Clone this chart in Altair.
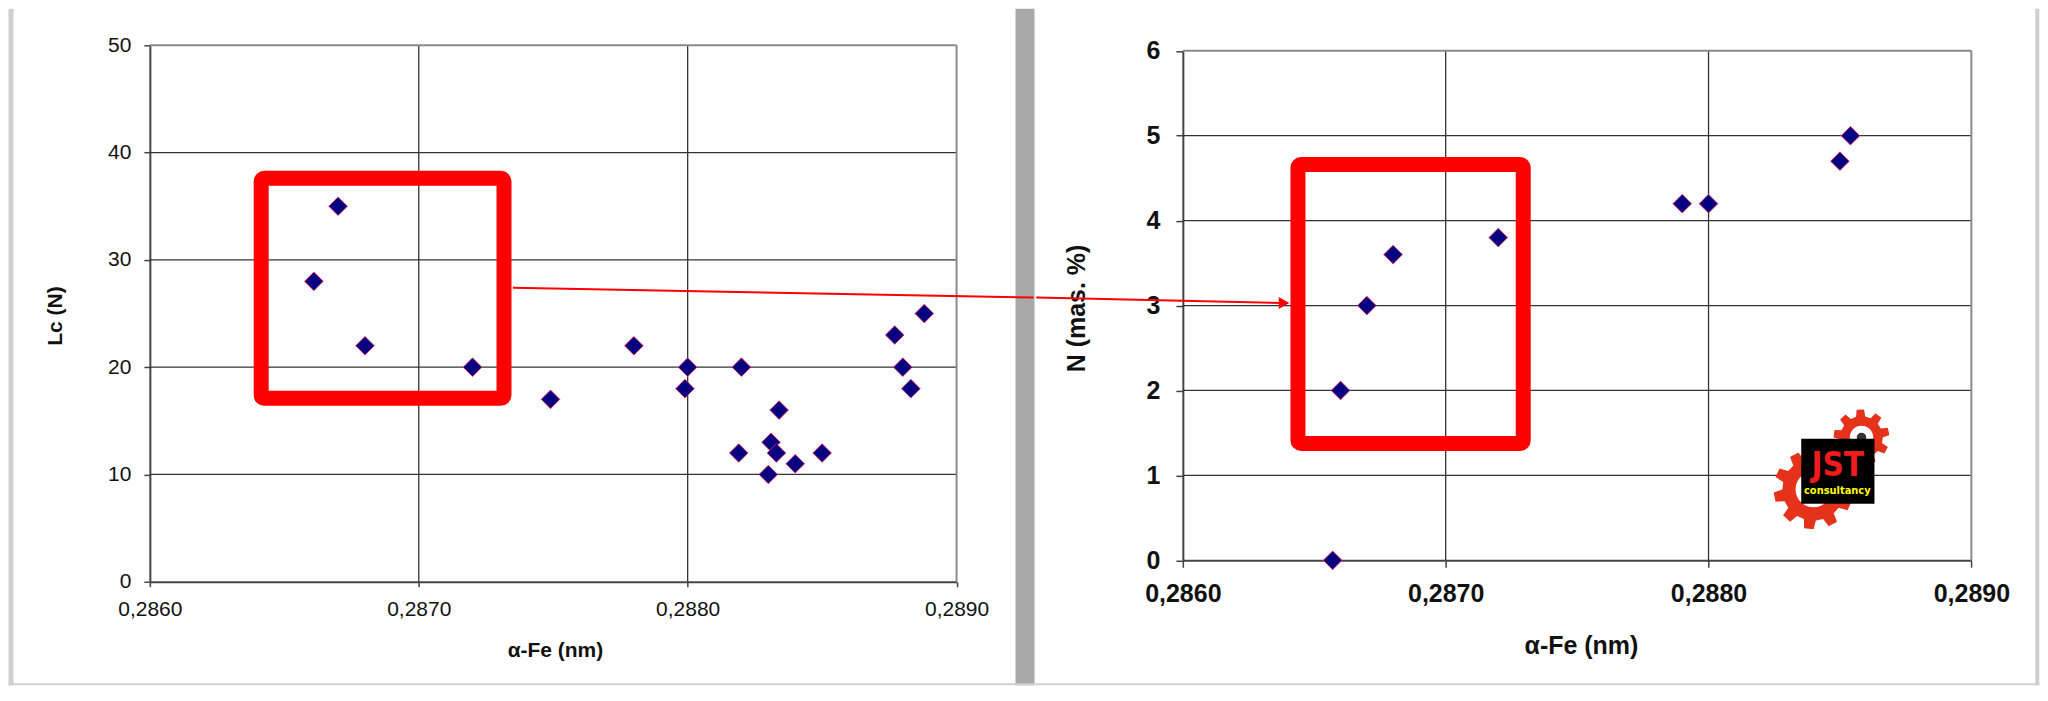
import math
import altair as alt
import pandas as pd

# ---------------- data ----------------
lc_x = [0.28661, 0.28670, 0.28680, 0.28720, 0.28749, 0.28780, 0.28799, 0.28800, 0.28820, 0.28819,
        0.28831, 0.28833, 0.28830, 0.28834, 0.28840, 0.28850, 0.28877, 0.28880, 0.28883, 0.28888]
lc_y = [28, 35, 22, 20, 17, 22, 18, 20, 20, 12, 13, 12, 10, 16, 11, 12, 23, 20, 18, 25]

n_x = [0.28657, 0.28660, 0.28670, 0.28680, 0.28720, 0.28790, 0.28800, 0.28850, 0.28854]
n_y = [0, 2, 3, 3.6, 3.8, 4.2, 4.2, 4.7, 5.0]

x_ticks = [0.286, 0.287, 0.288, 0.289]
lc_ticks = [0, 10, 20, 30, 40, 50]
n_ticks = [0, 1, 2, 3, 4, 5, 6]

x_title = "α-Fe (nm)"
lc_title = "Lc (N)"
n_title = "N (mas. %)"

# highlight boxes (data coordinates of the box outline)
lc_box_x = [0.286414]
lc_box_x2 = [0.287317]
lc_box_y = [17.1]
lc_box_y2 = [37.6]
n_box_x = [0.286438]
n_box_x2 = [0.287295]
n_box_y = [1.376]
n_box_y2 = [4.66]

# arrow end points (data coordinates)
arrow_start_x = [0.28735]
arrow_start_y = [27.4]
arrow_end_x = [0.28638]
arrow_end_y = [3.03]

# logo (right panel, data coordinates)
logo_x = [0.2883527]
logo_x2 = [0.2886313]
logo_y = [0.667]
logo_y2 = [1.432]
gear_big_x = [0.2883995]
gear_big_y = [0.835]
gear_small_x = [0.288582]
gear_small_y = [1.447]
logo_text = ["JST", "consultancy"]
logo_text_x = [0.2884918, 0.2884900]
logo_text_y = [1.114, 0.812]

# ---------------- layout ----------------
LW, LH = 807.5, 537.0
RW, RH = 789.3, 515.5
FONT = "Liberation Sans"
NARROW = "Liberation Sans Narrow, DejaVu Sans Condensed, Liberation Sans"
LABEL_EXPR = "replace(format(datum.value, '.4f'), '.', ',')"
GRAY = "#cfcfcf"
GAP = "#a9a9a9"

xs = alt.Scale(domain=[0.286, 0.289], nice=False, zero=False)
ys_l = alt.Scale(domain=[0, 50], nice=False, zero=False)
ys_r = alt.Scale(domain=[0, 6], nice=False, zero=False, range=[RH, 5.5])

one = pd.DataFrame({"k": [0]})


def gear_path(teeth, root=0.78, hole=0.45):
    s = 2 * math.pi / teeth
    pts = []
    for i in range(teeth):
        a = i * s
        for f, r in ((0.0, root), (0.38, root), (0.5, 1.0), (0.88, 1.0)):
            ang = a + f * s
            pts.append((r * math.cos(ang), r * math.sin(ang)))
    d = "M" + "L".join(f"{x:.3f},{y:.3f}" for x, y in pts) + "Z"
    m = 32
    hp = [(hole * math.cos(-2 * math.pi * k / m), hole * math.sin(-2 * math.pi * k / m)) for k in range(m)]
    d += "M" + "L".join(f"{x:.3f},{y:.3f}" for x, y in hp) + "Z"
    return d


def vrect(x, x2, y, y2, color):
    return alt.Chart(one).mark_rect(color=color).encode(
        x=alt.value(x), x2=alt.value(x2), y=alt.value(y), y2=alt.value(y2))


def make_panel(px, py, ys, y_lo, y_hi, ax, ay, box, arrow, extras, strips, w, h):
    X = lambda f: alt.X(f, scale=xs, axis=ax)
    Y = lambda f: alt.Y(f, scale=ys, axis=ay)
    inner_x = x_ticks[1:-1]
    inner_y = [t for t in (lc_ticks if y_hi == 50 else n_ticks)][1:-1]
    gvx = pd.DataFrame({"v": inner_x, "a": [y_lo] * len(inner_x), "b": [y_hi] * len(inner_x)})
    gvy = pd.DataFrame({"v": inner_y})
    bvx = pd.DataFrame({"v": x_ticks[-1:], "a": [y_lo], "b": [y_hi]})
    bvy = pd.DataFrame({"v": [y_hi]})
    layers = [vrect(*s) for s in strips]
    layers += [
        alt.Chart(gvx).mark_rule(color="#333333", strokeWidth=1.3).encode(x=X("v:Q"), y=Y("a:Q"), y2="b:Q"),
        alt.Chart(gvy).mark_rule(color="#333333", strokeWidth=1.3).encode(y=Y("v:Q")),
        alt.Chart(bvx).mark_rule(color="#8a8a8a", strokeWidth=2).encode(x=X("v:Q"), y=Y("a:Q"), y2="b:Q"),
        alt.Chart(bvy).mark_rule(color="#8a8a8a", strokeWidth=2).encode(y=Y("v:Q")),
        alt.Chart(pd.DataFrame({"x": px, "y": py})).mark_point(
            shape="diamond", filled=True, size=350, fill="#000080",
            stroke="#ff2a55", strokeWidth=0.8, opacity=1).encode(x=X("x:Q"), y=Y("y:Q")),
        alt.Chart(pd.DataFrame({"x": box[0], "x2": box[1], "y": box[2], "y2": box[3]})).mark_rect(
            fill="transparent", stroke="#ff0000", strokeWidth=15, cornerRadius=3,
            strokeJoin="round").encode(x=X("x:Q"), x2="x2:Q", y=Y("y:Q"), y2="y2:Q"),
        alt.Chart(pd.DataFrame({"x": arrow[0], "y": arrow[1]})).mark_rule(
            color="#ff0000", strokeWidth=2).encode(
            x=X("x:Q"), y=Y("y:Q"), x2=alt.value(arrow[2]), y2=alt.value(arrow[3])),
    ]
    for df, mark in extras:
        enc = dict(x=X("x:Q"), y=Y("y:Q"))
        if "x2" in df:
            enc["x2"] = "x2:Q"
            enc["y2"] = "y2:Q"
        if "t" in df:
            enc["text"] = "t:N"
        layers.append(mark(alt.Chart(df)).encode(**enc))
    return alt.layer(*layers).properties(width=w, height=h)


# ---------------- axes ----------------
def axis_x(size, bold, tick, pad, tx, ty):
    kw = dict(values=x_ticks, labelExpr=LABEL_EXPR, title=x_title, grid=False,
              domainColor="#444", domainWidth=2, tickColor="#444", tickWidth=1.5, tickSize=tick,
              labelFont=FONT, labelFontSize=size, labelColor="#111", labelPadding=pad,
              labelFlush=False, labelOverlap=False,
              titleFont=FONT, titleFontSize=size, titleFontWeight="bold", titleColor="#111",
              titleX=tx, titleY=ty, titleBaseline="middle", titleAlign="center")
    if bold:
        kw["labelFontWeight"] = "bold"
    return alt.Axis(**kw)


def axis_y(vals, title, size, bold, tick, pad, tx, ty):
    kw = dict(values=vals, title=title, grid=False,
              domainColor="#444", domainWidth=2, tickColor="#444", tickWidth=1.5, tickSize=tick,
              labelFont=FONT, labelFontSize=size, labelColor="#111", labelPadding=pad,
              labelFlush=False, labelOverlap=False,
              titleFont=FONT, titleFontSize=size, titleFontWeight="bold", titleColor="#111",
              titleX=tx, titleY=ty, titleBaseline="middle", titleAlign="center", titleAngle=270)
    if bold:
        kw["labelFontWeight"] = "bold"
    return alt.Axis(**kw)


ax_l = axis_x(21, False, 5, 12, 405.5, 68.5)
ay_l = axis_y(lc_ticks, lc_title, 21, False, 6, 13, -94.5, 270.5)
ax_r = axis_x(25, True, 7, 14.5, 398.5, 85.5)
ay_r = axis_y(n_ticks, n_title, 25, True, 7, 16, -106.4, 262.9)

# ---------------- panels ----------------
left = make_panel(
    lc_x, lc_y, ys_l, 0, 50, ax_l, ay_l,
    (lc_box_x, lc_box_x2, lc_box_y, lc_box_y2),
    (arrow_start_x, arrow_start_y, 884.5, 252.5),
    [],
    [(-141.5, -136.5, -36.5, 640.5, GRAY),      # left edge
     (866.5, 885.5, -36.5, 640.5, GAP),         # gap between the two slides
     (-141.5, 885.5, 638.5, 640.5, GRAY)],      # bottom edge
    LW, LH)

logo_extras = [
    (pd.DataFrame({"x": gear_big_x, "y": gear_big_y}),
     lambda c: c.mark_point(shape=gear_path(10), filled=True, size=6400, fill="#e4321b",
                            opacity=1, strokeWidth=0)),
    (pd.DataFrame({"x": gear_small_x, "y": gear_small_y}),
     lambda c: c.mark_point(shape=gear_path(9, root=0.76, hole=0.42), filled=True, size=3136,
                            fill="#e4321b", opacity=1, strokeWidth=0)),
    (pd.DataFrame({"x": gear_small_x, "y": gear_small_y}),
     lambda c: c.mark_point(shape="circle", filled=True, size=90, fill="#333333",
                            opacity=1, strokeWidth=0)),
    (pd.DataFrame({"x": logo_x, "x2": logo_x2, "y": logo_y, "y2": logo_y2}),
     lambda c: c.mark_rect(color="#000000")),
    (pd.DataFrame({"x": [0.286385], "y": arrow_end_y}),
     lambda c: c.mark_point(shape="triangle-right", filled=True, size=150, fill="#ff0000",
                            opacity=1, strokeWidth=0)),
    (pd.DataFrame({"t": logo_text[:1], "x": logo_text_x[:1], "y": logo_text_y[:1]}),
     lambda c: c.mark_text(font=NARROW, fontWeight="bold", fontSize=33, color="#ee1c1c",
                           baseline="middle", align="center")),
    (pd.DataFrame({"t": logo_text[1:], "x": logo_text_x[1:], "y": logo_text_y[1:]}),
     lambda c: c.mark_text(font=NARROW, fontWeight="bold", fontSize=11, color="#ffff00",
                           baseline="middle", align="center")),
]

right = make_panel(
    n_x, n_y, ys_r, 0, 6, ax_r, ay_r,
    (n_box_x, n_box_x2, n_box_y, n_box_y2),
    (arrow_end_x, arrow_end_y, -146.7, 252.5),
    logo_extras,
    [(853.3, 857.3, -36.5, 640.5, GRAY),        # right edge
     (-147.7, 857.3, 638.5, 640.5, GRAY)],      # bottom edge
    RW, RH)

chart = alt.hconcat(left, right, spacing=0).properties(
    padding={"left": 0, "top": 0, "right": 0, "bottom": 0},
    background="white",
).configure_view(strokeWidth=0)

chart.save("out.html", embed_options={"renderer": "svg", "actions": False})
